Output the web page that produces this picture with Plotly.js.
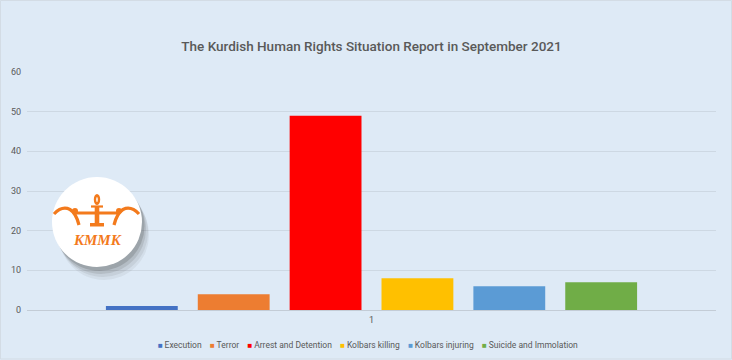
<!DOCTYPE html>
<html>
<head>
<meta charset="utf-8">
<script src="https://cdn.plot.ly/plotly-3.0.1.min.js"></script>
<style>html,body{margin:0;padding:0;background:#deeaf6;}#chart{width:732px;height:360px;}</style>
</head>
<body>
<div id="chart"></div>
<script>
// ---- data ----
var categories = ['1'];
var seriesNames = ['Execution', 'Terror', 'Arrest and Detention', 'Kolbars killing', 'Kolbars injuring', 'Suicide and Immolation'];
var seriesValues = [1, 4, 49, 8, 6, 7];
var seriesColors = ['#4472c4', '#ed7d31', '#ff0000', '#ffc000', '#5b9bd5', '#70ad47'];
var yTickValues = [0, 10, 20, 30, 40, 50, 60];
var chartTitle = 'The Kurdish Human Rights Situation Report in September 2021';
var logoText = 'KMMK';

// ---- layout helpers (pixel -> paper) ----
var W = 732, H = 360, M = {l: 27, r: 16, t: 72, b: 50};
function px(x) { return (x - M.l) / (W - M.l - M.r); }
function py(y) { return (H - M.b - y) / (H - M.t - M.b); }
function P(pts) {
  return pts.map(function (p) {
    var s = p[0];
    for (var i = 1; i < p.length; i += 2) s += (i > 1 ? ' ' : '') + px(p[i]) + ',' + py(p[i + 1]);
    return s;
  }).join(' ');
}

var traces = seriesNames.map(function (name, i) {
  return {
    type: 'bar', name: name, x: categories, y: [seriesValues[i]],
    marker: {color: seriesColors[i]}, hoverinfo: 'name+y', showlegend: false
  };
});

var orange = '#f37a1c';
function circ(cx, cy, r, fill) {
  return {type: 'circle', xref: 'paper', yref: 'paper', layer: 'above',
          x0: px(cx - r), x1: px(cx + r), y0: py(cy + r), y1: py(cy - r), fillcolor: fill, line: {width: 0}};
}
function line(pts, w) {
  return {type: 'path', xref: 'paper', yref: 'paper', layer: 'above', line: {color: orange, width: w}, path: P(pts)};
}
var shapes = [
  // chart border
  {type: 'rect', xref: 'paper', yref: 'paper', x0: px(0.5), x1: px(731.5), y0: py(359), y1: py(0.5),
   line: {color: '#d3dce5', width: 1}, fillcolor: 'rgba(0,0,0,0)', layer: 'below'},
  // logo soft shadow
  circ(104, 235, 45, 'rgba(70,70,70,0.07)'),
  circ(103, 232, 45, 'rgba(70,70,70,0.09)'),
  circ(101, 229, 45, 'rgba(60,60,60,0.13)'),
  circ(99.5, 226, 45, 'rgba(50,50,50,0.18)'),
  // logo disc
  circ(97, 222, 45, '#ffffff'),
  // left arch + figure
  line([['M', 54, 214], ['Q', 62, 205.5, 70, 209.5], ['Q', 76, 213, 79, 225]], 3.2),
  // right arch + figure
  line([['M', 139, 214], ['Q', 131, 205.5, 123, 209.5], ['Q', 117, 213, 114, 225]], 3.2),
  // beam
  line([['M', 74, 213], ['L', 119, 213]], 2.8),
  // cup under flame
  line([['M', 91, 206.5], ['L', 103, 206.5]], 2.2),
  // stem
  {type: 'rect', xref: 'paper', yref: 'paper', layer: 'above', x0: px(94.7), x1: px(99.3), y0: py(207), y1: py(225), fillcolor: orange, line: {width: 0}},
  {type: 'rect', xref: 'paper', yref: 'paper', layer: 'above', x0: px(90), x1: px(104), y0: py(223), y1: py(226.5), fillcolor: orange, line: {width: 0}},
  // flame
  {type: 'circle', xref: 'paper', yref: 'paper', layer: 'above', x0: px(93.8), x1: px(100.2), y0: py(194), y1: py(205), fillcolor: orange, line: {width: 0}},
  {type: 'circle', xref: 'paper', yref: 'paper', layer: 'above', x0: px(96.2), x1: px(97.8), y0: py(197), y1: py(202), fillcolor: '#ffffff', line: {width: 0}},
  // figures' heads
  circ(75, 211, 3, orange),
  circ(119, 211, 3, orange)
];

// legend built from the series arrays (Excel-style compact legend)
var legendText = seriesNames.map(function (name, i) {
  return '<span style="color:' + seriesColors[i] + ';font-size:8px">■</span>' + '\u2009' + name;
}).join('\u00a0\u00a0\u00a0\u00a0');

var layout = {
  width: W, height: H,
  margin: M,
  paper_bgcolor: '#deeaf6', plot_bgcolor: '#deeaf6',
  font: {family: 'Roboto, "Open Sans", sans-serif', color: '#595959', size: 9},
  title: {text: chartTitle, x: 0.5, xref: 'paper', y: 1 - 46 / H, yanchor: 'middle',
          font: {family: 'Roboto, sans-serif', size: 13.5, color: '#595959', weight: 500}},
  barmode: 'group', bargap: 0.2, bargroupgap: 0.218,
  xaxis: {type: 'category', showgrid: false, zeroline: false, showline: false, ticks: '',
          tickfont: {size: 9, color: '#595959'}, ticklabelstandoff: 3},
  yaxis: {range: [0, 60], tickvals: yTickValues, showgrid: true, gridcolor: '#cdd8e3', gridwidth: 1,
          zeroline: true, zerolinecolor: '#c3ccd6', zerolinewidth: 1, showline: false, ticks: '',
          tickfont: {size: 9, color: '#595959'}, ticklabelstandoff: 5},
  showlegend: false,
  shapes: shapes,
  annotations: [
    {text: '<b><i>' + logoText + '</i></b>', xref: 'paper', yref: 'paper', x: px(97.5), y: py(240),
     showarrow: false, xanchor: 'center', yanchor: 'middle',
     font: {family: '"Liberation Serif", "DejaVu Serif", serif', size: 15, color: orange}},
    {text: legendText, xref: 'paper', yref: 'paper', x: px(368), y: py(345),
     showarrow: false, xanchor: 'center', yanchor: 'middle',
     font: {family: 'Roboto, sans-serif', size: 8.5, color: '#595959'}}
  ]
};

Plotly.newPlot('chart', traces, layout, {displayModeBar: false, staticPlot: true});
</script>
</body>
</html>
